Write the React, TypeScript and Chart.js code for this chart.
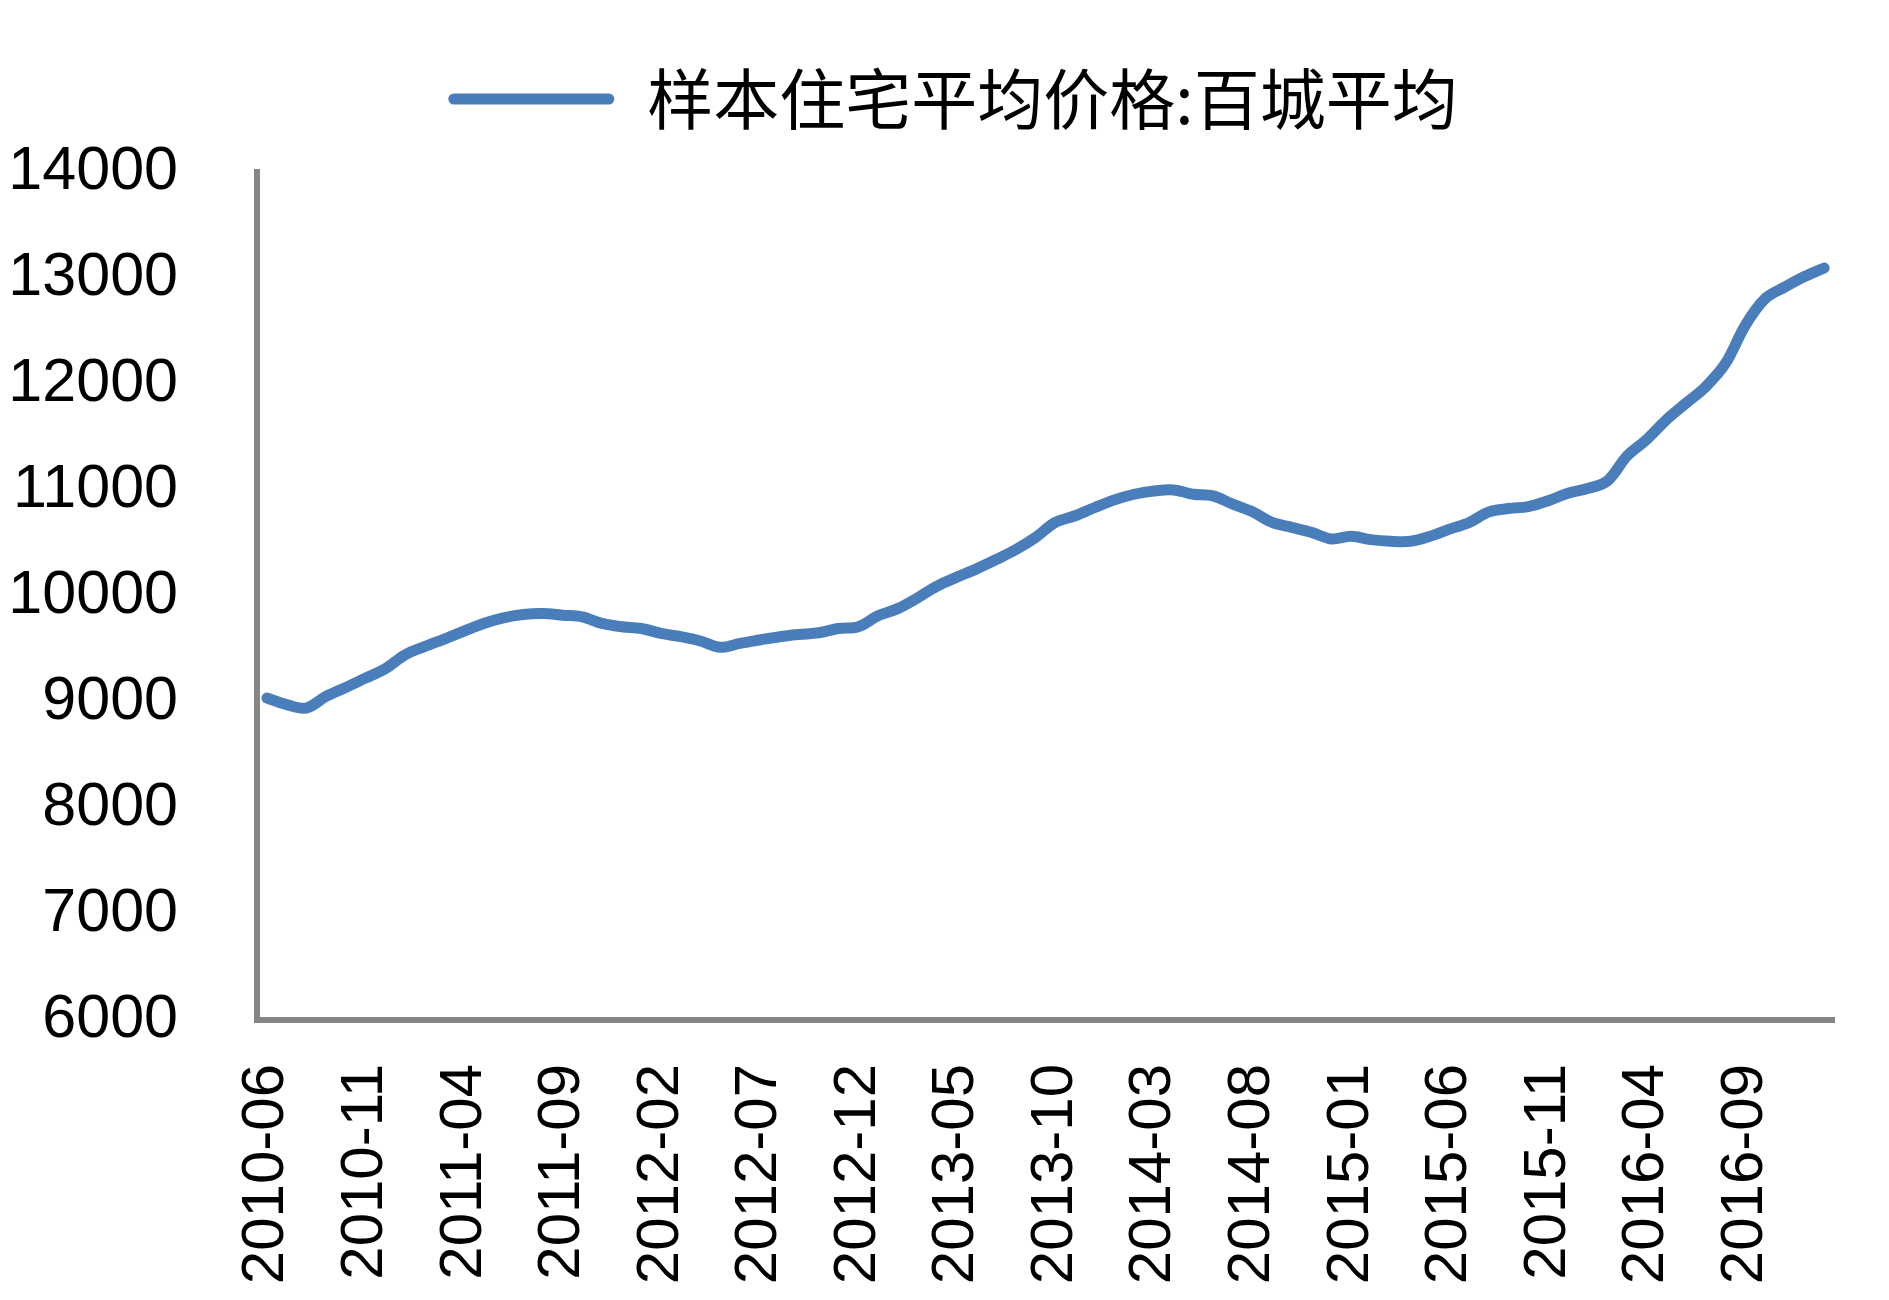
import React, { useEffect, useRef } from "react";
import { Chart, registerables } from "chart.js";

Chart.register(...registerables);

const SERIES_NAME = "样本住宅平均价格:百城平均";

const CATEGORIES = [
  "2010-06", "2010-07", "2010-08", "2010-09", "2010-10", "2010-11", "2010-12",
  "2011-01", "2011-02", "2011-03", "2011-04", "2011-05", "2011-06", "2011-07", "2011-08", "2011-09", "2011-10", "2011-11", "2011-12",
  "2012-01", "2012-02", "2012-03", "2012-04", "2012-05", "2012-06", "2012-07", "2012-08", "2012-09", "2012-10", "2012-11", "2012-12",
  "2013-01", "2013-02", "2013-03", "2013-04", "2013-05", "2013-06", "2013-07", "2013-08", "2013-09", "2013-10", "2013-11", "2013-12",
  "2014-01", "2014-02", "2014-03", "2014-04", "2014-05", "2014-06", "2014-07", "2014-08", "2014-09", "2014-10", "2014-11", "2014-12",
  "2015-01", "2015-02", "2015-03", "2015-04", "2015-05", "2015-06", "2015-07", "2015-08", "2015-09", "2015-10", "2015-11", "2015-12",
  "2016-01", "2016-02", "2016-03", "2016-04", "2016-05", "2016-06", "2016-07", "2016-08", "2016-09", "2016-10", "2016-11", "2016-12",
  "2017-01",
];

const PRICES = [
  9037, 8975, 8943, 9053, 9137, 9225, 9313,
  9444, 9522, 9594, 9669, 9741, 9794, 9825, 9834, 9819, 9803, 9741, 9710,
  9693, 9647, 9616, 9575, 9516, 9553, 9585, 9616, 9637, 9653, 9693, 9710,
  9813, 9881, 9981, 10094, 10178, 10256, 10344, 10438, 10553, 10694, 10757, 10835,
  10907, 10960, 10991, 11001, 10960, 10944, 10866, 10794, 10694, 10647, 10600, 10538,
  10563, 10532, 10516, 10516, 10563, 10631, 10694, 10794, 10825, 10844, 10898, 10969,
  11013, 11085, 11320, 11476, 11663, 11820, 11976, 12195, 12554, 12804, 12914, 13014,
  13095,
];

const X_LABEL_EVERY = 5;
const Y_MIN = 6000;
const Y_MAX = 14000;
const Y_STEP = 1000;

const LINE_COLOR = "#4a7ebb";
const AXIS_COLOR = "#868686";

export default function App() {
  const canvasRef = useRef<HTMLCanvasElement | null>(null);

  useEffect(() => {
    const canvas = canvasRef.current;
    if (!canvas) return;

    const legendTweakPlugin = {
      id: "legendTweak",
      beforeInit(chart: any) {
        const legend = chart.legend;
        if (!legend) return;
        const origFit = legend.fit;
        legend.fit = function fit() {
          origFit.call(this);
          this.height = 106;
        };
      },
      afterLayout(chart: any) {
        const legend = chart.legend;
        if (!legend) return;
        legend.left += 32;
        legend.right += 32;
      },
    };

    const chart = new Chart(canvas, {
      type: "line",
      data: {
        labels: CATEGORIES,
        datasets: [
          {
            label: SERIES_NAME,
            data: PRICES,
            borderColor: LINE_COLOR,
            backgroundColor: LINE_COLOR,
            borderWidth: 11,
            borderCapStyle: "round",
            borderJoinStyle: "round",
            pointRadius: 0,
            tension: 0.35,
            fill: false,
          },
        ],
      },
      options: {
        responsive: false,
        animation: false,
        layout: { padding: { top: 58, right: 47, left: 0, bottom: 0 } },
        plugins: {
          tooltip: { enabled: false },
          legend: {
            display: true,
            position: "top",
            labels: {
              boxWidth: 166,
              boxHeight: 11,
              padding: 0,
              color: "#000",
              font: { family: "'Noto Sans CJK SC', sans-serif", size: 66 },
              generateLabels: () => [
                {
                  text: SERIES_NAME,
                  fillStyle: LINE_COLOR,
                  strokeStyle: LINE_COLOR,
                  lineWidth: 0,
                  borderRadius: 5.5,
                  hidden: false,
                  datasetIndex: 0,
                  fontColor: "#000",
                },
              ],
            },
          },
        },
        scales: {
          x: {
            type: "category",
            offset: true,
            grid: { display: false, drawTicks: false },
            border: { display: true, color: AXIS_COLOR, width: 6 },
            ticks: {
              autoSkip: false,
              maxRotation: 90,
              minRotation: 90,
              padding: 44,
              color: "#000",
              font: { family: "'Liberation Sans', Arial, sans-serif", size: 60 },
              callback: (_v: any, i: number) => (i % X_LABEL_EVERY === 0 ? CATEGORIES[i] : ""),
            },
            afterFit: (scale: any) => {
              scale.height = 272;
              scale.paddingLeft = 0;
              scale.paddingRight = 0;
            },
          },
          y: {
            min: Y_MIN,
            max: Y_MAX,
            grid: { display: false, drawTicks: false },
            border: { display: true, color: AXIS_COLOR, width: 6 },
            ticks: {
              stepSize: Y_STEP,
              padding: 79,
              color: "#000",
              font: { family: "'Liberation Sans', Arial, sans-serif", size: 61 },
              callback: (v: any) => String(v),
            },
            afterFit: (scale: any) => {
              scale.width = 249;
            },
          },
        },
      },
      plugins: [legendTweakPlugin],
    });

    return () => chart.destroy();
  }, []);

  return (
    <div style={{ width: 1873, height: 1284 }}>
      <canvas ref={canvasRef} width={1873} height={1284} style={{ display: "block" }} />
    </div>
  );
}
